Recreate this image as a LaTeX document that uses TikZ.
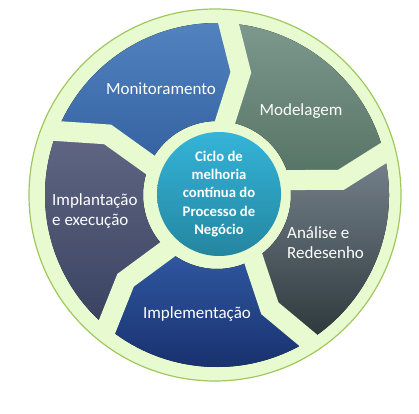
\documentclass[tikz,border=0pt]{standalone}
\usepackage{fontspec}
\setmainfont{Carlito}
\usepackage{tikz}
\usetikzlibrary{positioning}
\definecolor{ringgreen}{RGB}{232,250,208}
\definecolor{rimgreen}{RGB}{160,200,95}
\definecolor{monTop}{RGB}{82,132,192}
\definecolor{monBot}{RGB}{52,96,160}
\definecolor{modTop}{RGB}{125,152,142}
\definecolor{modBot}{RGB}{85,115,100}
\definecolor{anaTop}{RGB}{120,132,142}
\definecolor{anaBot}{RGB}{45,56,60}
\definecolor{implTop}{RGB}{48,88,162}
\definecolor{implBot}{RGB}{22,45,105}
\definecolor{imptTop}{RGB}{96,102,132}
\definecolor{imptBot}{RGB}{56,66,96}
\definecolor{hubTop}{RGB}{52,180,216}
\definecolor{hubBot}{RGB}{36,134,160}

\begin{document}
\begin{tikzpicture}[x=1pt, y=1pt,
        gap/.style={draw=ringgreen, line width=20pt, line join=miter},
        label/.style={text=white, font=\fontsize{17}{20}\selectfont, inner sep=0pt},
        hub/.style={circle, minimum size=124pt, inner sep=0pt, top color=hubTop, bottom color=hubBot,
            text=white, align=center, font=\fontsize{14.7}{18.2}\selectfont\bfseries}
    ]
    \useasboundingbox (0,0) rectangle (419,413);
    % outer disc
    \filldraw[fill=ringgreen, draw=rimgreen, line width=1.2pt] (215,218) circle[radius=186];
    % five chevron segments, clockwise
    \begin{scope}[shift={(217,218)}]
        \foreach \b/\tc/\bc in {87/modTop/modBot, 15/anaTop/anaBot, -57/implTop/implBot, -129/imptTop/imptBot, -201/monTop/monBot}
            \fill[top color=\tc, bottom color=\bc] (\b:172) arc[start angle=\b, end angle=\b-72, radius=172]
                -- (\b-80:125) -- (\b-74:74) arc[start angle=\b-74, end angle=\b-2, radius=74]
                -- (\b-8:125) -- cycle;
        \foreach \b in {87,15,-57,-129,-201}
            \draw[gap] (\b-2:66) -- (\b-8:125) -- (\b:180);
    \end{scope}
    \node[hub] (ciclo) at (219,219) {Ciclo de\\melhoria\\contínua do\\Processo de\\Negócio};
    \node[label, anchor=base] (mon) at (161,318.7) {Monitoramento};
    \node[label, anchor=base] (mod) at (301,297.5) {Modelagem};
    \node[label, anchor=west, align=left] (ana) at (287,170.7) {Análise e\\Redesenho};
    \node[label, anchor=base] (impl) at (197,94.7) {Implementação};
    \node[label, anchor=west, align=left] (impt) at (52,202) {Implantação\\e execução};
\end{tikzpicture}
\end{document}
